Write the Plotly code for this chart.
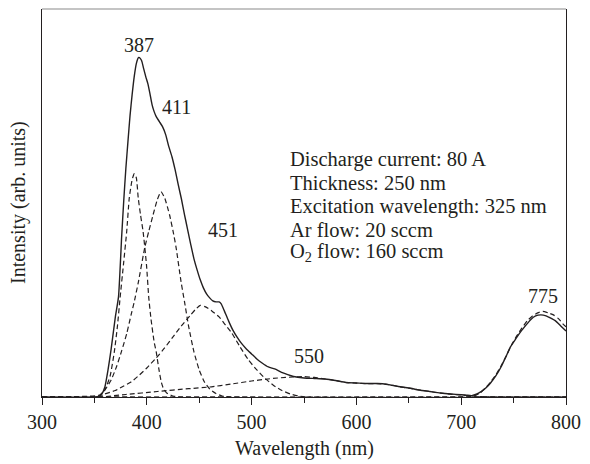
import plotly.graph_objects as go

# ---- data ----
# measured PL spectrum (solid)
total_wl = [300, 350, 354, 357, 360, 363, 366, 370, 373, 376, 378, 380, 382, 384, 386, 388, 390, 392, 393,
            395, 397, 399, 401, 403, 405, 407, 409, 412, 415, 418, 421, 424, 427, 430, 433, 436, 439, 442,
            445, 448, 451, 454, 457, 460, 463, 466, 469, 471, 474, 478, 482, 486, 490, 495, 500, 505, 510,
            516, 522, 530, 540, 550, 560, 570, 580, 590, 600, 610, 620, 630, 640, 650, 660, 670, 680, 690,
            700, 705, 710, 715, 719, 724, 728, 733, 738, 743, 747, 752, 757, 762, 766, 771, 776, 781, 785,
            790, 795, 800]
total_int = [0, 0, 0.5, 3, 10, 27, 48, 80, 100, 160, 196, 228, 255, 281, 302, 320, 333, 339, 339,
             336, 328, 320, 313, 303, 292, 285, 280, 275, 270, 262, 250, 240, 227, 212, 198, 182, 167, 152,
             138, 127, 117, 109, 103, 99, 96, 95, 95, 93, 86, 76, 67, 60, 54, 48, 43, 38, 34,
             30, 28, 24, 20.5, 19, 18.5, 18, 16.5, 14.5, 14, 13.5, 13.5, 12.5, 10.5, 9, 7, 5.5, 4, 3,
             2.3, 1.8, 1.4, 3, 5.3, 9.5, 14, 21, 30, 41, 50, 58, 65.5, 72, 77, 81, 82, 81, 79,
             76, 71, 66]

# fitted component peaks (dashed)
p387_wl = [300, 355, 360, 365, 369, 372, 374.5, 377.7, 380.8, 383.3, 386, 388, 390, 391.8, 394, 396.5,
           399.7, 401.9, 404, 407, 409, 411.5, 413.8, 416, 419, 425, 432, 800]
p387_int = [0, 1, 7, 21, 45, 71, 99, 132, 165, 199, 217, 223, 219, 199, 182, 165,
            132, 99, 78, 55, 45, 28, 15, 8, 4, 1, 0, 0]

p411_wl = [300, 355, 360, 366, 371, 376, 381, 385, 388, 392, 398, 402, 406, 410, 413.5, 417, 421.7, 425,
           428, 432.7, 436, 440, 445, 450, 455, 460, 466, 472, 480, 800]
p411_int = [0, 2, 7, 17, 30, 46, 64, 82, 95, 115, 149, 166, 182, 197, 205, 199, 182, 166,
            149, 115, 95, 70, 45, 27, 15, 8, 3.5, 1, 0, 0]

p451_wl = [300, 355, 360, 370, 378, 385, 393, 400, 409, 417, 425, 433, 441, 446, 451, 456, 462, 469,
           475, 481, 489, 497, 505, 513, 521, 529, 537, 545, 555, 800]
p451_int = [0, 0, 3, 6.5, 11, 15, 22, 29, 39, 49, 60, 71, 81, 87, 91.5, 90, 86, 80,
            72, 64, 50, 37, 27, 18.5, 11.5, 6.5, 3, 1, 0, 0]

p550_wl = [300, 355, 380, 410, 440, 460, 481, 500, 513, 525, 540, 550, 560, 570, 580, 590, 600, 610,
           620, 630, 640, 650, 660, 670, 680, 690, 700, 710, 720, 730, 800]
p550_int = [0, 0, 2.5, 5.5, 8.3, 10, 13, 16, 17.7, 19, 20, 20.3, 19.5, 18, 16.5, 14.5, 13.8, 13.3,
            13.3, 12.5, 10.5, 8.8, 7, 5.5, 4, 2.8, 2, 1, 0.3, 0, 0]

p775_wl = [300, 705, 712, 718, 723, 728, 733, 738, 743, 748, 753, 758, 763, 768, 773, 778, 783, 788,
           793, 798, 800]
p775_int = [0, 0, 1, 4, 9, 15, 22, 31, 41, 52, 61, 69, 76, 81, 84, 85.5, 84, 82,
            78, 72, 70]

x_ticks = [300, 400, 500, 600, 700, 800]
peak_labels = ["387", "411", "451", "550", "775"]
peak_label_x = [392.5, 428.3, 472.6, 554.7, 778.3]
peak_label_y = [352, 290, 167, 40.5, 100.5]
info_lines = ["Discharge current: 80 A", "Thickness: 250 nm", "Excitation wavelength: 325 nm",
              "Ar flow: 20 sccm", "O<sub>2</sub> flow: 160 sccm"]
info_y = [237, 214, 190.5, 167, 144]

# ---- figure ----
FONT = "Liberation Serif"
INK = "#231f20"

fig = go.Figure()

dash_style = dict(color=INK, width=1.2, dash="5px,3px")
fig.add_trace(go.Scatter(x=[300, 800], y=[0, 0], mode="lines", line=dash_style, hoverinfo="skip"))
for wl, val in [(p387_wl, p387_int), (p411_wl, p411_int), (p451_wl, p451_int),
                (p550_wl, p550_int), (p775_wl, p775_int)]:
    fig.add_trace(go.Scatter(x=wl, y=val, mode="lines", line=dict(dash_style, shape="spline", smoothing=0.5),
                             hoverinfo="skip"))
fig.add_trace(go.Scatter(x=total_wl, y=total_int, mode="lines",
                         line=dict(color=INK, width=1.4, shape="spline", smoothing=0.5), hoverinfo="skip"))

annotations = []
for t, x, y in zip(peak_labels, peak_label_x, peak_label_y):
    annotations.append(dict(x=x, y=y, xref="x", yref="y", text=t, showarrow=False,
                            font=dict(family=FONT, size=20, color=INK), xanchor="center", yanchor="middle"))
for t, y in zip(info_lines, info_y):
    annotations.append(dict(x=534.9, y=y, xref="x", yref="y", text=t, showarrow=False,
                            font=dict(family=FONT, size=20.5, color=INK), xanchor="left", yanchor="middle"))
annotations.append(dict(x=0.5, y=0, xref="paper", yref="paper", yshift=-51, text="Wavelength (nm)",
                        showarrow=False, font=dict(family=FONT, size=20, color=INK),
                        xanchor="center", yanchor="middle"))
annotations.append(dict(x=0, y=0.5, xref="paper", yref="paper", xshift=-24, text="Intensity (arb. units)",
                        textangle=-90, showarrow=False, font=dict(family=FONT, size=20, color=INK),
                        xanchor="center", yanchor="middle"))

fig.update_layout(
    width=590, height=464,
    margin=dict(l=42, r=19, t=9, b=67),
    paper_bgcolor="white", plot_bgcolor="white",
    showlegend=False,
    font=dict(family=FONT, size=20, color=INK),
    annotations=annotations,
    shapes=[dict(type="line", xref="paper", yref="paper", x0=0, x1=1, y0=1, y1=1,
                 line=dict(color="#8a8a8a", width=1.2))],
    xaxis=dict(range=[300, 800], showgrid=False, zeroline=False, showline=True, linecolor=INK, linewidth=1.3,
               ticks="outside", ticklen=7, tickwidth=1.2, tickcolor=INK, tickvals=x_ticks,
               tickfont=dict(family=FONT, size=20, color=INK),
               minor=dict(dtick=50, tick0=300, ticks="outside", ticklen=5, tickwidth=1.2, tickcolor=INK,
                          showgrid=False)),
    yaxis=dict(range=[0, 387.5], showgrid=False, zeroline=False, showline=True, mirror=True, linecolor=INK,
               linewidth=1.3, ticks="", showticklabels=False),
)

fig.write_html("out.html")
